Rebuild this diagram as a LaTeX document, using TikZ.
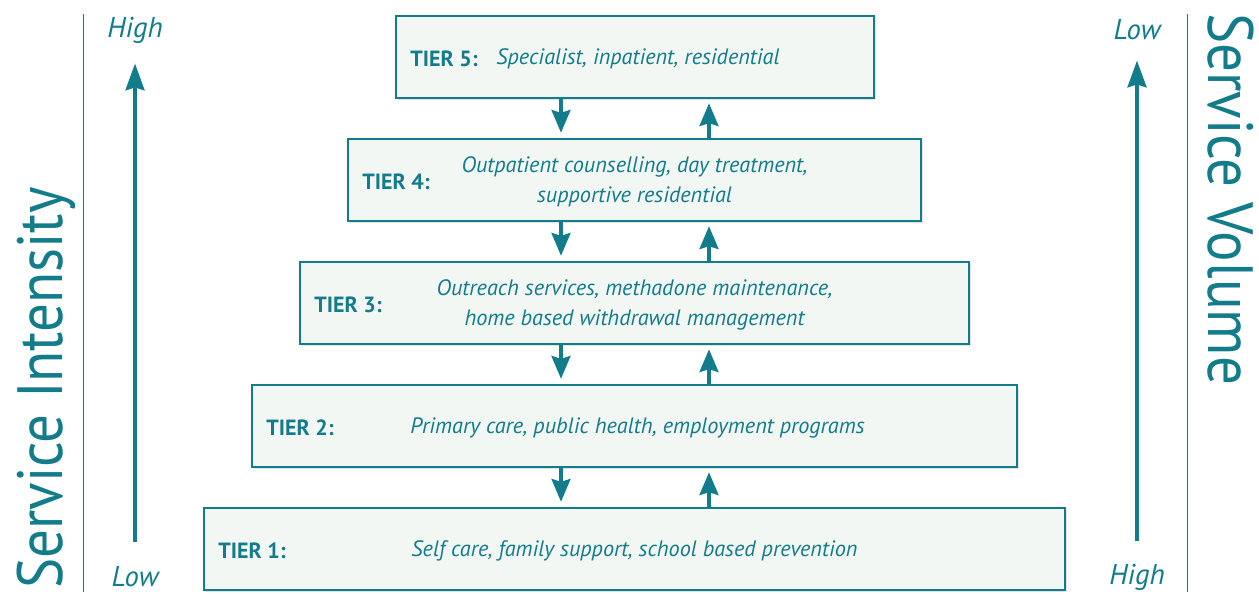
\documentclass[tikz,border=0pt]{standalone}
\usepackage{fontspec}
\setmainfont{PT Sans}
\newfontfamily\bigfont{PT Sans}[FakeStretch=0.89]
\usetikzlibrary{arrows.meta,shadows,calc}
\definecolor{teal1}{HTML}{127C8A}
\definecolor{boxfill}{HTML}{F2F7F3}
\tikzset{
  tierbox/.style={draw=teal1, line width=1.8pt, fill=boxfill, inner sep=0pt,
    minimum height=61.5pt, drop shadow={opacity=0.22, shadow xshift=1.5pt, shadow yshift=-1.5pt}},
  tiername/.style={anchor=west, text=teal1, font=\fontsize{16.5}{18}\selectfont\bfseries, inner sep=0pt},
  tiertext/.style={text=teal1, font=\fontsize{16.7}{22.5}\selectfont\itshape, align=center, inner sep=0pt},
  flow/.style={teal1, line width=3pt, -{Stealth[length=17pt,width=14pt,inset=2pt]}},
  axisarrow/.style={teal1, line width=3.2pt, -{Stealth[length=20pt,width=14pt,inset=2pt]}},
  axisline/.style={teal1, line width=0.6pt},
  axislabel/.style={text=teal1, font=\fontsize{21.5}{24}\selectfont\itshape, inner sep=0pt},
  bigtitle/.style={text=teal1, font=\bigfont\fontsize{48}{52}\selectfont, inner sep=0pt}
}
\begin{document}
\begin{tikzpicture}[x=0.75pt,y=-0.75pt]
\useasboundingbox[fill=white] (0,0) rectangle (1259,594);

% boxes
\node[tierbox, minimum width=358.5pt] (t5) at (635,57) {};
\node[tierbox, minimum width=429.75pt] (t4) at (634.5,180) {};
\node[tierbox, minimum width=501.75pt] (t3) at (634.5,303) {};
\node[tierbox, minimum width=573.75pt] (t2) at (634.5,426) {};
\node[tierbox, minimum width=645.75pt] (t1) at (634.5,549) {};

% texts
\node[tiername] (n5) at (410,59) {TIER 5:};
\node[tiertext, anchor=west] (d5) at (496,59) {Specialist, inpatient, residential};
\node[tiername] (n4) at (362,182) {TIER 4:};
\node[tiertext] (d4) at (634.5,182) {Outpatient counselling, day treatment,\\supportive residential};
\node[tiername] (n3) at (314,305) {TIER 3:};
\node[tiertext] (d3) at (634.5,305) {Outreach services, methadone maintenance,\\home based withdrawal management};
\node[tiername] (n2) at (266,428) {TIER 2:};
\node[tiertext] (d2) at (637.5,428) {Primary care, public health, employment programs};
\node[tiername] (n1) at (218,551) {TIER 1:};
\node[tiertext] (d1) at (634.5,551) {Self care, family support, school based prevention};

% flow arrows
\coordinate (dx) at (561,0);
\coordinate (ux) at (709,0);
\foreach \a/\b in {t5/t4,t4/t3,t3/t2,t2/t1}{
  \draw[flow] (\a.south -| dx) -- ($(\b.north -| dx)+(0,-5)$);
  \draw[flow] (\b.north -| ux) -- ($(\a.south -| ux)+(0,4)$);
}

% left axis
\coordinate (la) at (83,14);
\coordinate (lb) at (83,592);
\draw[axisline] (la) -- (lb);
\node[axislabel] (lhigh) at (135,30) {High};
\node[axislabel] (llow) at (135,577) {Low};
\draw[axisarrow] ($(llow.north)+(0,-25)$) -- ($(lhigh.south)+(0,20)$);
\node[bigtitle, rotate=90, anchor=base] (lt) at (62,388) {Service Intensity};

% right axis
\coordinate (ra) at (1187,14);
\coordinate (rb) at (1187,592);
\draw[axisline] (ra) -- (rb);
\node[axislabel] (rlow) at (1137,30) {Low};
\node[axislabel] (rhigh) at (1137,577) {High};
\draw[axisarrow] ($(rhigh.north)+(0,-23)$) -- ($(rlow.south)+(0,20)$);
\node[bigtitle, rotate=-90, anchor=base] (rt) at (1208,199) {Service Volume};
\end{tikzpicture}
\end{document}
